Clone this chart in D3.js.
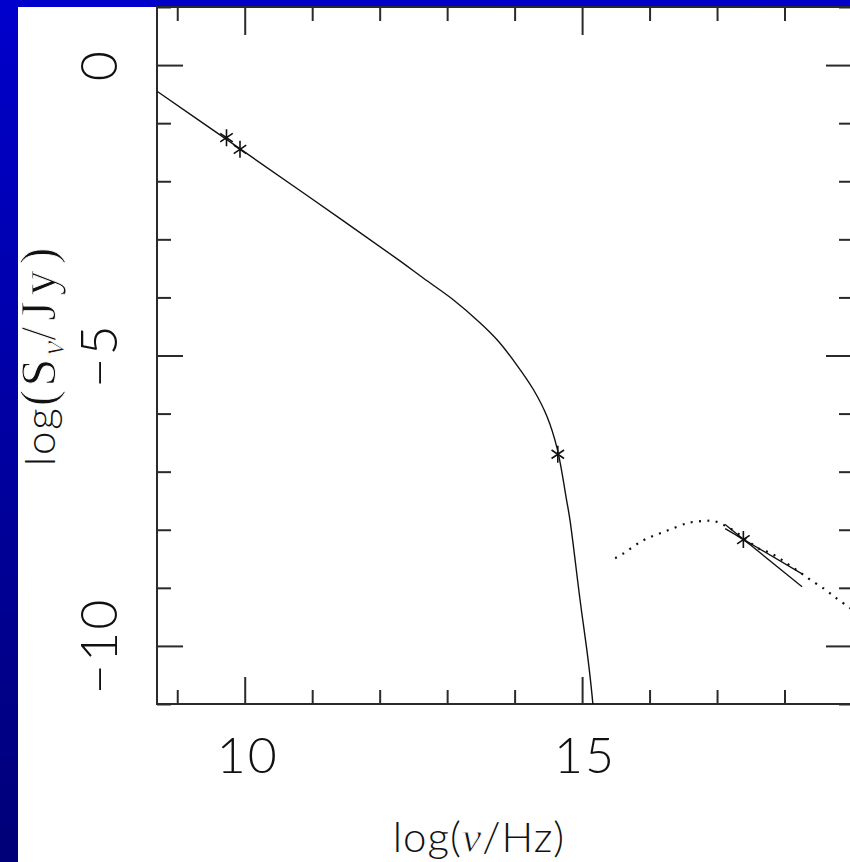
<!DOCTYPE html>
<html>
<head>
<meta charset="utf-8">
<script src="https://cdn.jsdelivr.net/npm/d3@7"></script>
<style>
  html, body { margin: 0; padding: 0; background: #fff; }
  svg { display: block; }
  .lbl { font-family: Lato, "DejaVu Sans", sans-serif; font-weight: 300; fill: #111; }
  .ser { font-family: "Liberation Serif", "DejaVu Serif", serif; font-weight: 400; stroke: #fff; stroke-width: 0.9px; }
</style>
</head>
<body>
<svg id="chart" width="850" height="862"></svg>
<script>
// Radio-to-optical synchrotron spectrum (solid)
const synchX = [8.70, 9.73, 10.93, 12.30, 12.65, 13.09, 13.49, 13.74, 14.03, 14.28, 14.48, 14.63, 14.77, 14.82, 14.97, 15.09, 15.16, 15.20];
const synchY = [-0.45, -1.28, -2.25, -3.37, -3.67, -4.04, -4.44, -4.73, -5.16, -5.59, -6.05, -6.60, -7.49, -7.83, -9.21, -10.25, -11.0, -11.6];

// High-energy component model (dotted)
const modelX = [15.49, 15.61, 15.91, 16.23, 16.58, 16.80, 16.95, 17.14, 17.39, 17.61, 17.79, 17.96, 18.11, 18.26, 18.38, 18.58, 18.77, 18.95, 19.00];
const modelY = [-8.49, -8.41, -8.18, -8.03, -7.88, -7.85, -7.85, -7.94, -8.13, -8.32, -8.40, -8.52, -8.64, -8.76, -8.86, -9.01, -9.18, -9.33, -9.37];

// X-ray spectral slope range (bow tie)
const bowX = [17.12, 18.26];
const bowSteepY = [-7.91, -8.98];
const bowFlatY = [-7.98, -8.76];

// Measured flux points
const obsX = [9.73, 9.93, 14.64, 17.39];
const obsY = [-1.25, -1.45, -6.70, -8.17];

// Axis ticks
const xMajor = [10, 15];
const xMinor = [9, 11, 12, 13, 14, 16, 17, 18, 19];
const xTickLabels = ["10", "15"];
const yMajor = [0, -5, -10];
const yMinor = [1, -1, -2, -3, -4, -6, -7, -8, -9, -11];
const yTickLabels = ["0", "\u22125", "\u221210"];

const svg = d3.select("#chart");
const W = 850, H = 862;

// Blue backdrop with white panel
const defs = svg.append("defs");
const grad = defs.append("linearGradient").attr("id", "bg")
  .attr("x1", 0).attr("y1", 0).attr("x2", 0).attr("y2", 1);
grad.append("stop").attr("offset", "0%").attr("stop-color", "#0000cc");
grad.append("stop").attr("offset", "100%").attr("stop-color", "#000078");
svg.append("rect").attr("width", W).attr("height", H).attr("fill", "url(#bg)");
svg.append("rect").attr("x", 18).attr("y", 7).attr("width", W - 18).attr("height", H - 7).attr("fill", "#fff");

const pL = 157, pR = 852, pT = 7, pB = 704;
const x = d3.scaleLinear().domain([8.7, 19.0]).range([pL, pR]);
const y = d3.scaleLinear().domain([-11, 1]).range([pB, pT]);

defs.append("clipPath").attr("id", "plot")
  .append("rect").attr("x", pL).attr("y", pT).attr("width", pR - pL).attr("height", pB - pT);

const axisCol = "#2a2a2a";
function styleAxis(g) {
  g.select(".domain").remove();
  g.selectAll("line").attr("stroke", axisCol).attr("stroke-width", 2);
}
// Inward ticks on all four sides
svg.append("g").attr("transform", `translate(0,${pB})`)
  .call(d3.axisBottom(x).tickValues(xMajor).tickSizeInner(-27).tickSizeOuter(0).tickFormat("")).call(styleAxis);
svg.append("g").attr("transform", `translate(0,${pB})`)
  .call(d3.axisBottom(x).tickValues(xMinor).tickSizeInner(-14).tickSizeOuter(0).tickFormat("")).call(styleAxis);
svg.append("g").attr("transform", `translate(0,${pT})`)
  .call(d3.axisTop(x).tickValues(xMajor).tickSizeInner(-28).tickSizeOuter(0).tickFormat("")).call(styleAxis);
svg.append("g").attr("transform", `translate(0,${pT})`)
  .call(d3.axisTop(x).tickValues(xMinor).tickSizeInner(-14).tickSizeOuter(0).tickFormat("")).call(styleAxis);
svg.append("g").attr("transform", `translate(${pL},0)`)
  .call(d3.axisLeft(y).tickValues(yMajor).tickSizeInner(-26).tickSizeOuter(0).tickFormat("")).call(styleAxis);
svg.append("g").attr("transform", `translate(${pL},0)`)
  .call(d3.axisLeft(y).tickValues(yMinor).tickSizeInner(-14).tickSizeOuter(0).tickFormat("")).call(styleAxis);
svg.append("g").attr("transform", `translate(${pR},0)`)
  .call(d3.axisRight(y).tickValues(yMajor).tickSizeInner(-26).tickSizeOuter(0).tickFormat("")).call(styleAxis);
svg.append("g").attr("transform", `translate(${pR},0)`)
  .call(d3.axisRight(y).tickValues(yMinor).tickSizeInner(-13).tickSizeOuter(0).tickFormat("")).call(styleAxis);

// Frame
svg.append("rect").attr("x", pL).attr("y", pT).attr("width", pR - pL).attr("height", pB - pT)
  .attr("fill", "none").attr("stroke", axisCol).attr("stroke-width", 2);

const plot = svg.append("g").attr("clip-path", "url(#plot)");
const line = d3.line().x(d => x(d[0])).y(d => y(d[1]));
const smooth = d3.line().x(d => x(d[0])).y(d => y(d[1])).curve(d3.curveCatmullRom.alpha(0.5));

plot.append("path").datum(d3.zip(synchX, synchY)).attr("d", smooth)
  .attr("fill", "none").attr("stroke", "#111").attr("stroke-width", 1.4);

plot.append("path").datum(d3.zip(modelX, modelY)).attr("d", smooth)
  .attr("fill", "none").attr("stroke", "#111").attr("stroke-width", 2.2)
  .attr("stroke-dasharray", "2 6.4");

[bowSteepY, bowFlatY].forEach(ys => {
  plot.append("path").datum(d3.zip(bowX, ys)).attr("d", line)
    .attr("fill", "none").attr("stroke", "#111").attr("stroke-width", 1.3);
});

// Asterisk markers
const r = 8.5;
const armAngles = [90, 30, 150];
const starPath = armAngles.map(a => {
  const t = a * Math.PI / 180, dx = r * Math.cos(t) * 0.85, dy = r * Math.sin(t);
  return `M${-dx},${-dy}L${dx},${dy}`;
}).join("");
plot.selectAll(".star").data(d3.zip(obsX, obsY)).join("path").attr("class", "star")
  .attr("transform", d => `translate(${x(d[0])},${y(d[1])})`)
  .attr("d", starPath).attr("fill", "none").attr("stroke", "#111").attr("stroke-width", 1.6);

// Tick labels
svg.selectAll(".xt").data(xMajor).join("text").attr("class", "lbl xt")
  .attr("x", (d) => x(d) + 3).attr("y", 773).attr("text-anchor", "middle")
  .attr("font-size", 50).attr("letter-spacing", 2).text((d, i) => xTickLabels[i]);
svg.selectAll(".yt").data(yMajor).join("text").attr("class", "lbl yt")
  .attr("transform", d => `translate(117,${y(d)}) rotate(-90)`)
  .attr("text-anchor", "middle").attr("font-size", 52).attr("letter-spacing", 2).text((d, i) => yTickLabels[i]);

// Axis titles
const xt = svg.append("text").attr("class", "lbl").attr("x", 479).attr("y", 852)
  .attr("text-anchor", "middle").attr("font-size", 42).attr("letter-spacing", 1);
xt.append("tspan").text("log(");
xt.append("tspan").attr("class", "ser").attr("font-style", "italic").attr("font-size", 44).text("\u03bd");
xt.append("tspan").text("/Hz)");

const yt = svg.append("text").attr("class", "lbl")
  .attr("transform", "translate(55,354) rotate(-90)").attr("text-anchor", "middle").attr("font-size", 42);
yt.append("tspan").attr("letter-spacing", 2).text("log");
yt.append("tspan").attr("class", "ser").attr("font-size", 50).attr("letter-spacing", 3).text("(S");
yt.append("tspan").attr("class", "ser").attr("font-style", "italic").attr("font-size", 34).attr("dy", 9).text("\u03bd");
yt.append("tspan").attr("class", "ser").attr("font-size", 50).attr("letter-spacing", 6).attr("dy", -9).text("/Jy)");
</script>
</body>
</html>
